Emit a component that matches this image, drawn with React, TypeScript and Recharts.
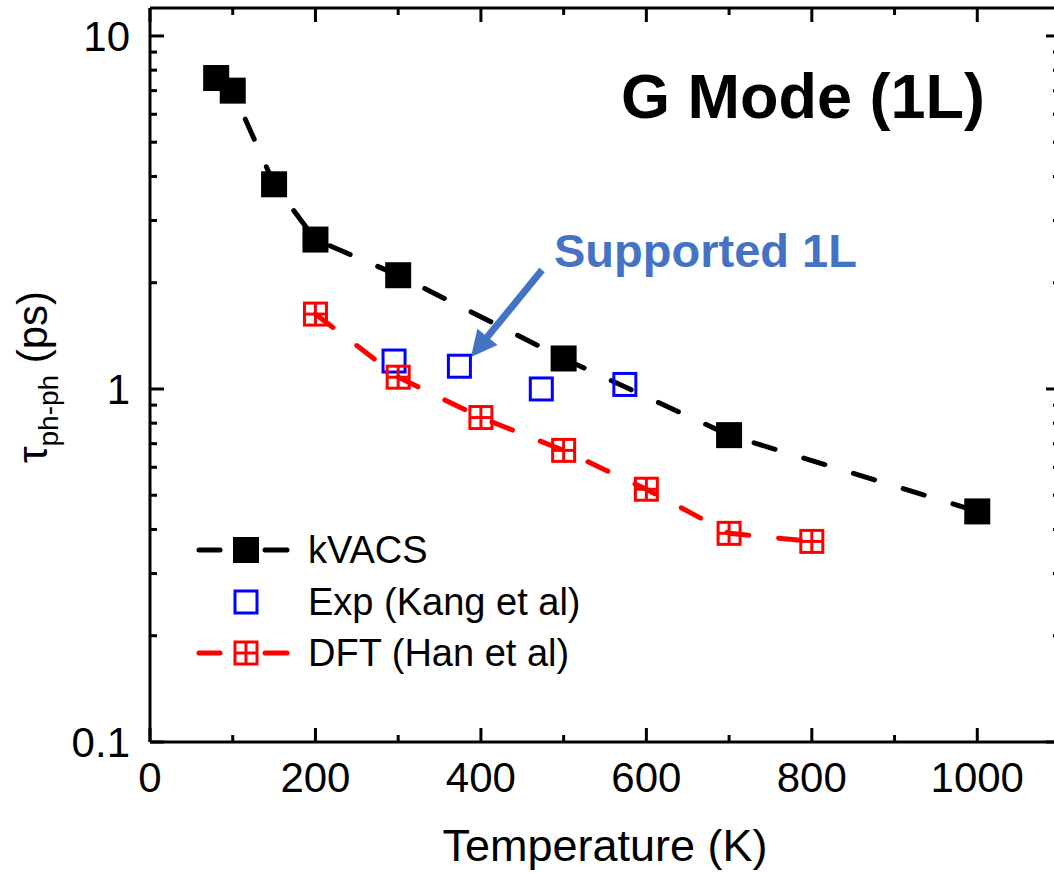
import React from 'react';
import { ComposedChart, Line, Scatter, XAxis, YAxis, Legend, Customized } from 'recharts';

const FONT = '"Liberation Sans", Arial, sans-serif';

// kVACS (black filled squares, dashed line)
const kvacsT = [80, 100, 150, 200, 300, 500, 700, 1000];
const kvacsTau = [7.6, 7.0, 3.8, 2.65, 2.1, 1.22, 0.74, 0.45];
// Exp (Kang et al) (blue open squares)
const expT = [295, 374, 473, 574];
const expTau = [1.2, 1.16, 1.0, 1.03];
// DFT (Han et al) (red crossed squares, dashed line)
const dftT = [200, 300, 400, 500, 600, 700, 800];
const dftTau = [1.63, 1.08, 0.83, 0.67, 0.52, 0.39, 0.37];

const xTicks = [0, 100, 200, 300, 400, 500, 600, 700, 800, 900, 1000];
const xMajor = [0, 200, 400, 600, 800, 1000];
const xLabels = ['0', '200', '400', '600', '800', '1000'];
const yTicks = [0.1, 0.2, 0.3, 0.4, 0.5, 0.6, 0.7, 0.8, 0.9, 1, 2, 3, 4, 5, 6, 7, 8, 9, 10];
const yMajor = [0.1, 1, 10];
const yLabels = ['0.1', '1', '10'];

const seriesNames = ['kVACS', 'Exp (Kang et al)', 'DFT (Han et al)'];

const kvacsData = kvacsT.map((t, i) => ({ T: t, tau: kvacsTau[i] }));
const expData = expT.map((t, i) => ({ T: t, tau: expTau[i] }));
const dftData = dftT.map((t, i) => ({ T: t, tau: dftTau[i] }));

const majorIdx = (arr: number[], v: number) => arr.findIndex((m) => Math.abs(m - v) < 1e-9);

const BlackSquare = ({ cx, cy }: any) => (
  <rect x={cx - 13} y={cy - 13} width={26} height={26} fill="#000" />
);
const BlueSquare = ({ cx, cy }: any) => (
  <rect x={cx - 11} y={cy - 11} width={22} height={22} fill="none" stroke="#0000ff" strokeWidth={3} />
);
const RedSquare = ({ cx, cy }: any) => (
  <g>
    <rect x={cx - 11} y={cy - 11} width={22} height={22} fill="none" stroke="#ff0000" strokeWidth={3} />
    <line x1={cx - 11} x2={cx + 11} y1={cy} y2={cy} stroke="#ff0000" strokeWidth={3} />
    <line x1={cx} x2={cx} y1={cy - 11} y2={cy + 11} stroke="#ff0000" strokeWidth={3} />
  </g>
);

const BottomTick = (props: any) => {
  const { x, y, payload } = props;
  const idx = majorIdx(xMajor, payload.value);
  const len = idx >= 0 ? 14 : 7;
  return (
    <g>
      <line x1={x} x2={x} y1={y} y2={y - len} stroke="#000" strokeWidth={3} />
      {idx >= 0 && (
        <text x={x} y={y + 50} textAnchor="middle" fontSize={42} fontFamily={FONT} fill="#000">
          {xLabels[idx]}
        </text>
      )}
    </g>
  );
};
const TopTick = (props: any) => {
  const { x, y, payload } = props;
  const idx = majorIdx(xMajor, payload.value);
  const len = idx >= 0 ? 14 : 7;
  return <line x1={x} x2={x} y1={y} y2={y + len} stroke="#000" strokeWidth={3} />;
};
const LeftTick = (props: any) => {
  const { x, y, payload } = props;
  const idx = majorIdx(yMajor, payload.value);
  const len = idx >= 0 ? 14 : 7;
  return (
    <g>
      <line x1={x} x2={x + len} y1={y} y2={y} stroke="#000" strokeWidth={3} />
      {idx >= 0 && (
        <text x={x - 20} y={y + 15} textAnchor="end" fontSize={42} fontFamily={FONT} fill="#000">
          {yLabels[idx]}
        </text>
      )}
    </g>
  );
};
const RightTick = (props: any) => {
  const { x, y, payload } = props;
  const idx = majorIdx(yMajor, payload.value);
  const len = idx >= 0 ? 14 : 7;
  return <line x1={x} x2={x - len} y1={y} y2={y} stroke="#000" strokeWidth={3} />;
};

const LegendContent = () => {
  const rows = [28, 80, 131];
  return (
    <svg width={460} height={160} style={{ display: 'block', overflow: 'visible' }}>
      <line x1={9} x2={30} y1={rows[0]} y2={rows[0]} stroke="#000" strokeWidth={5} strokeLinecap="round" />
      <line x1={75} x2={97} y1={rows[0]} y2={rows[0]} stroke="#000" strokeWidth={5} strokeLinecap="round" />
      <BlackSquare cx={56} cy={rows[0]} />
      <text x={118} y={rows[0] + 13} fontSize={38} fontFamily={FONT} fill="#000">{seriesNames[0]}</text>
      <BlueSquare cx={56} cy={rows[1]} />
      <text x={118} y={rows[1] + 13} fontSize={38} fontFamily={FONT} fill="#000">{seriesNames[1]}</text>
      <line x1={9} x2={30} y1={rows[2]} y2={rows[2]} stroke="#ff0000" strokeWidth={5} strokeLinecap="round" />
      <line x1={75} x2={97} y1={rows[2]} y2={rows[2]} stroke="#ff0000" strokeWidth={5} strokeLinecap="round" />
      <RedSquare cx={56} cy={rows[2]} />
      <text x={118} y={rows[2] + 13} fontSize={38} fontFamily={FONT} fill="#000">{seriesNames[2]}</text>
    </svg>
  );
};

const Annotations = () => {
  const sx = 542, sy = 270, tx = 471, ty = 357;
  const dx = tx - sx, dy = ty - sy;
  const L = Math.sqrt(dx * dx + dy * dy);
  const ux = dx / L, uy = dy / L;
  const px = -uy, py = ux;
  const hl = 26, hw = 13;
  const bx = tx - ux * hl, by = ty - uy * hl;
  return (
    <g>
      <text x={985} y={118} textAnchor="end" fontSize={63} fontWeight="bold" fontFamily={FONT} fill="#000">
        G Mode (1L)
      </text>
      <text x={554} y={267} fontSize={47} fontWeight="bold" fontFamily={FONT} fill="#4472c4">
        Supported 1L
      </text>
      <line x1={sx} y1={sy} x2={bx + ux * 2} y2={by + uy * 2} stroke="#4472c4" strokeWidth={7} />
      <polygon
        points={`${tx},${ty} ${bx + px * hw},${by + py * hw} ${bx - px * hw},${by - py * hw}`}
        fill="#4472c4"
      />
      <text
        transform="translate(47,377) rotate(-90)"
        textAnchor="middle"
        fontSize={42}
        fontFamily={FONT}
        fill="#000"
      >
        τ<tspan fontSize={28} dy={11}>ph-ph</tspan>
        <tspan dy={-11}> (ps)</tspan>
      </text>
      <text x={605} y={861} textAnchor="middle" fontSize={45} fontFamily={FONT} fill="#000">
        Temperature (K)
      </text>
    </g>
  );
};

export default function App() {
  return (
    <div style={{ position: 'absolute', left: 0, top: 0, width: 1054, height: 873, overflow: 'hidden', background: '#fff' }}>
      <ComposedChart width={1062} height={873} margin={{ top: 7, right: 1, left: 0, bottom: 0 }}>
        <XAxis
          xAxisId="bottom"
          type="number"
          dataKey="T"
          domain={[0, 1100]}
          ticks={xTicks}
          interval={0}
          allowDataOverflow
          orientation="bottom"
          height={131}
          tickSize={0}
          tickMargin={0}
          tickLine={false}
          axisLine={{ stroke: '#000', strokeWidth: 3 }}
          tick={<BottomTick />}
        />
        <XAxis
          xAxisId="top"
          type="number"
          dataKey="T"
          domain={[0, 1100]}
          ticks={xTicks}
          interval={0}
          allowDataOverflow
          orientation="top"
          height={1}
          tickSize={0}
          tickMargin={0}
          tickLine={false}
          axisLine={{ stroke: '#000', strokeWidth: 3 }}
          tick={<TopTick />}
        />
        <YAxis
          yAxisId="left"
          type="number"
          dataKey="tau"
          scale="log"
          domain={[0.1, 12]}
          ticks={yTicks}
          interval={0}
          allowDataOverflow
          orientation="left"
          width={150}
          tickSize={0}
          tickMargin={0}
          tickLine={false}
          axisLine={{ stroke: '#000', strokeWidth: 3 }}
          tick={<LeftTick />}
        />
        <YAxis
          yAxisId="right"
          type="number"
          dataKey="tau"
          scale="log"
          domain={[0.1, 12]}
          ticks={yTicks}
          interval={0}
          allowDataOverflow
          orientation="right"
          width={1}
          tickSize={0}
          tickMargin={0}
          tickLine={false}
          axisLine={{ stroke: '#000', strokeWidth: 3 }}
          tick={<RightTick />}
        />
        <Scatter xAxisId="top" yAxisId="right" data={[]} dataKey="tau" isAnimationActive={false} legendType="none" />
        <Line
          xAxisId="bottom"
          yAxisId="left"
          data={kvacsData}
          dataKey="tau"
          name={seriesNames[0]}
          type="linear"
          stroke="#000"
          strokeWidth={5}
          strokeDasharray="22 30"
          strokeLinecap="round"
          dot={(p: any) => <BlackSquare key={`k${p.index}`} cx={p.cx} cy={p.cy} />}
          activeDot={false}
          isAnimationActive={false}
        />
        <Scatter
          xAxisId="bottom"
          yAxisId="left"
          data={expData}
          dataKey="tau"
          name={seriesNames[1]}
          shape={(p: any) => <BlueSquare cx={p.cx} cy={p.cy} />}
          isAnimationActive={false}
        />
        <Line
          xAxisId="bottom"
          yAxisId="left"
          data={dftData}
          dataKey="tau"
          name={seriesNames[2]}
          type="linear"
          stroke="#ff0000"
          strokeWidth={5}
          strokeDasharray="22 30"
          strokeLinecap="round"
          dot={(p: any) => <RedSquare key={`d${p.index}`} cx={p.cx} cy={p.cy} />}
          activeDot={false}
          isAnimationActive={false}
        />
        <Legend
          layout="vertical"
          align="center"
          verticalAlign="middle"
          wrapperStyle={{ left: 190, top: 522, width: 460, height: 160 }}
          content={<LegendContent />}
        />
        <Customized component={<Annotations />} />
      </ComposedChart>
    </div>
  );
}
